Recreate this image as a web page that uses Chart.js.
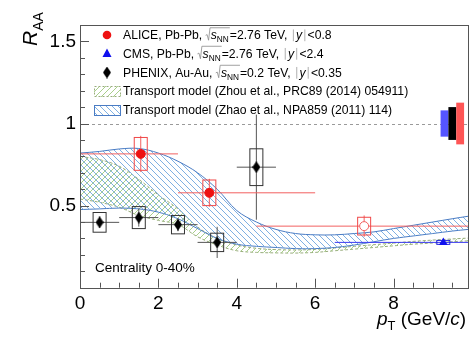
<!DOCTYPE html>
<html>
<head>
<meta charset="utf-8">
<script src="https://cdn.jsdelivr.net/npm/chart.js@4.4.0/dist/chart.umd.min.js"></script>
<style>
  html, body { margin: 0; padding: 0; background: #fff; }
  canvas { display: block; }
</style>
</head>
<body>
<canvas id="raa" width="474" height="344"></canvas>
<script>
// datos
const aliceX = [1.55, 3.3, 7.25];
const aliceY = [0.815, 0.578, 0.375];
const aliceXlo = [0, 2.5, 4.5];
const aliceXhi = [2.5, 6, 10];
const aliceStat = [0.11, 0.085, 0.065];
const aliceSys = [0.10, 0.078, 0.054];

const cmsX = [9.27];
const cmsY = [0.276];
const cmsXlo = [6.5];
const cmsXhi = [30];
const cmsStat = [0.01];
const cmsSys = [0.012];

const phenixX = [0.5, 1.5, 2.5, 3.5, 4.5];
const phenixY = [0.398, 0.427, 0.384, 0.276, 0.734];
const phenixXlo = [0, 1, 2, 3, 4];
const phenixXhi = [1, 2, 3, 4, 5];
const phenixStat = [0.035, 0.055, 0.04, 0.095, 0.32];
const phenixSys = [0.06, 0.067, 0.056, 0.056, 0.112];

// incertidumbres globales (CMS, PHENIX, ALICE)
const globalUnc = [0.08, 0.10, 0.127];

const bandX = [0, 0.5, 1, 1.5, 2, 2.5, 3, 3.5, 4, 4.5, 5, 5.5, 6, 6.5, 7, 7.5, 8, 8.5, 9, 9.5, 9.9];
const zhaoUpper = [0.82, 0.83, 0.845, 0.848, 0.82, 0.77, 0.70, 0.60, 0.47, 0.40, 0.355, 0.33, 0.322, 0.322, 0.33, 0.34, 0.36, 0.38, 0.40, 0.42, 0.435];
const zhaoLower = [0.476, 0.48, 0.485, 0.48, 0.46, 0.42, 0.36, 0.30, 0.265, 0.252, 0.245, 0.238, 0.238, 0.245, 0.26, 0.28, 0.30, 0.315, 0.33, 0.345, 0.355];
const zhouUpper = [0.80, 0.78, 0.74, 0.66, 0.565, 0.48, 0.37, 0.30, 0.26, 0.24, 0.232, 0.23, 0.233, 0.242, 0.252, 0.262, 0.272, 0.282, 0.29, 0.297, 0.302];
const zhouLower = [0.54, 0.52, 0.49, 0.44, 0.41, 0.385, 0.31, 0.26, 0.225, 0.215, 0.212, 0.211, 0.215, 0.225, 0.235, 0.245, 0.255, 0.265, 0.272, 0.28, 0.285];

const xTickLabels = [0, 2, 4, 6, 8];
const yTickLabels = [0.5, 1, 1.5];

const FONT = "'Liberation Sans', Arial, sans-serif";
const RED = '#ee1111', RED_L = '#f26060', BLUE = '#1010ee', BLUE_B = '#4a7cc4', GREEN_B = '#98ac7c';

function pts(xs, ys) { return xs.map((x, i) => ({ x, y: ys[i] })); }

function hatch(color, dir) {
  const s = 6;
  const c = document.createElement('canvas');
  c.width = s; c.height = s;
  const g = c.getContext('2d');
  g.strokeStyle = color; g.lineWidth = 1;
  g.beginPath();
  if (dir > 0) {
    g.moveTo(0, s); g.lineTo(s, 0);
    g.moveTo(-1, 1); g.lineTo(1, -1);
    g.moveTo(s - 1, s + 1); g.lineTo(s + 1, s - 1);
  } else {
    g.moveTo(0, 0); g.lineTo(s, s);
    g.moveTo(-1, s - 1); g.lineTo(1, s + 1);
    g.moveTo(s - 1, -1); g.lineTo(s + 1, 1);
  }
  g.stroke();
  return g.createPattern(c, 'repeat');
}
const blueHatch = hatch('#7fb0e2', -1);
const greenHatch = hatch('#a8cf8a', 1);

// rombo alargado para PHENIX
const diamond = (() => {
  const c = document.createElement('canvas');
  c.width = 8; c.height = 12;
  const g = c.getContext('2d');
  g.fillStyle = '#000';
  g.beginPath();
  g.moveTo(4, 0); g.lineTo(8, 6); g.lineTo(4, 12); g.lineTo(0, 6); g.closePath();
  g.fill();
  return c;
})();

// texto con raiz, subindices, cursiva
function drawParts(ctx, x, y, parts, size) {
  for (const p of parts) {
    if (typeof p === 'string') {
      ctx.font = `${size}px ${FONT}`;
      ctx.fillText(p, x, y);
      x += ctx.measureText(p).width;
    } else if (p.it) {
      ctx.font = `italic ${size}px ${FONT}`;
      ctx.fillText(p.it, x, y);
      x += ctx.measureText(p.it).width;
    } else if (p.sub) {
      ctx.font = `${size * 0.68}px ${FONT}`;
      ctx.fillText(p.sub, x, y + size * 0.28);
      x += ctx.measureText(p.sub).width;
    } else if (p.root) {
      const x0 = x;
      x += size * 0.42;
      const xe = drawParts(ctx, x, y, p.root, size);
      ctx.save();
      ctx.strokeStyle = '#8a8a8a'; ctx.lineWidth = 0.8;
      ctx.beginPath();
      ctx.moveTo(x0, y - size * 0.3);
      ctx.lineTo(x0 + size * 0.12, y - size * 0.36);
      ctx.lineTo(x0 + size * 0.24, y + size * 0.1);
      ctx.lineTo(x0 + size * 0.36, y - size * 0.92);
      ctx.lineTo(xe + 1, y - size * 0.92);
      ctx.stroke();
      ctx.restore();
      x = xe + 1;
    } else if (p.bar) {
      ctx.save();
      ctx.strokeStyle = '#9a9a9a'; ctx.lineWidth = 0.8;
      ctx.beginPath();
      ctx.moveTo(x + size * 0.22, y - size * 0.78);
      ctx.lineTo(x + size * 0.22, y + size * 0.18);
      ctx.stroke();
      ctx.restore();
      x += size * 0.44;
    }
  }
  return x;
}

function drawErrors(chart) {
  const { ctx, chartArea: a, scales: { x: sx, y: sy } } = chart;
  ctx.save();
  ctx.beginPath();
  ctx.rect(a.left, a.top, a.right - a.left, a.bottom - a.top);
  ctx.clip();
  const hw = 6.5;
  function series(xs, ys, lo, hi, stat, sys, lineCol, boxCol) {
    xs.forEach((xv, i) => {
      const px = sx.getPixelForValue(xv), py = sy.getPixelForValue(ys[i]);
      ctx.strokeStyle = lineCol; ctx.lineWidth = 1;
      ctx.beginPath();
      ctx.moveTo(sx.getPixelForValue(lo[i]), py);
      ctx.lineTo(sx.getPixelForValue(hi[i]), py);
      ctx.moveTo(px, sy.getPixelForValue(ys[i] + stat[i]));
      ctx.lineTo(px, sy.getPixelForValue(ys[i] - stat[i]));
      ctx.stroke();
      const t = sy.getPixelForValue(ys[i] + sys[i]), b = sy.getPixelForValue(ys[i] - sys[i]);
      ctx.strokeStyle = boxCol;
      ctx.strokeRect(px - hw, t, 2 * hw, b - t);
    });
  }
  series(phenixX, phenixY, phenixXlo, phenixXhi, phenixStat, phenixSys, '#555', '#333');
  series(aliceX, aliceY, aliceXlo, aliceXhi, aliceStat, aliceSys, RED_L, '#f04848');
  series(cmsX, cmsY, cmsXlo, cmsXhi, cmsStat, cmsSys, '#3a3af0', '#2020e0');
  ctx.restore();
}

const overlay = {
  id: 'overlay',
  beforeDatasetsDraw(chart) {
    const { ctx, chartArea: a, scales: { y: sy } } = chart;
    const py = Math.round(sy.getPixelForValue(1)) + 0.5;
    ctx.save();
    ctx.strokeStyle = '#9a9a9a'; ctx.lineWidth = 1;
    ctx.setLineDash([3, 3]);
    ctx.beginPath(); ctx.moveTo(a.left, py); ctx.lineTo(a.right, py); ctx.stroke();
    ctx.restore();
  },
  afterDatasetDraw(chart, args) {
    if (args.index === 3) drawErrors(chart);
  },
  afterDraw(chart) {
    const { ctx, chartArea: a, scales: { x: sx, y: sy } } = chart;
    ctx.save();
    // incertidumbres globales
    const gcol = ['#5555ff', '#000000', '#ff5555'];
    globalUnc.forEach((u, i) => {
      const x0 = sx.getPixelForValue(9.2 + 0.2 * i), x1 = sx.getPixelForValue(9.4 + 0.2 * i);
      const t = sy.getPixelForValue(1 + u), b = sy.getPixelForValue(1 - u);
      ctx.fillStyle = gcol[i];
      ctx.fillRect(x0, t, x1 - x0, b - t);
    });
    // marco y ticks
    ctx.strokeStyle = '#555'; ctx.lineWidth = 1;
    ctx.strokeRect(Math.round(a.left) + 0.5, Math.round(a.top) + 0.5, Math.round(a.right - a.left), Math.round(a.bottom - a.top));
    ctx.beginPath();
    for (let k = 1; k <= 16; k++) {
      const py = Math.round(sy.getPixelForValue(k / 10)) + 0.5;
      const len = k % 5 === 0 ? 9 : 5;
      ctx.moveTo(a.left, py); ctx.lineTo(a.left + len, py);
    }
    for (let k = 1; k <= 19; k++) {
      const px = Math.round(sx.getPixelForValue(k / 2)) + 0.5;
      const len = k % 4 === 0 ? 9 : 5;
      ctx.moveTo(px, a.bottom); ctx.lineTo(px, a.bottom - len);
    }
    ctx.stroke();

    // titulos de ejes
    ctx.fillStyle = '#000';
    ctx.textBaseline = 'alphabetic';
    ctx.save();
    ctx.translate(37, 46);
    ctx.rotate(-Math.PI / 2);
    ctx.font = `italic 21px ${FONT}`;
    ctx.fillText('R', 0, 0);
    const rw = ctx.measureText('R').width;
    ctx.font = `14px ${FONT}`;
    ctx.fillText('AA', rw, 6);
    ctx.restore();
    drawParts(ctx, 377, 325, [{ it: 'p' }, { sub: 'T' }, ' (GeV/', { it: 'c' }, ')'], 19);

    // leyenda
    const lx = 123, ls = 12.2;
    const rows = [39, 57.5, 76.5, 95, 113.5];
    ctx.fillStyle = RED;
    ctx.beginPath(); ctx.arc(107, rows[0] - 4, 4.3, 0, Math.PI * 2); ctx.fill();
    ctx.fillStyle = BLUE;
    ctx.beginPath();
    ctx.moveTo(107, rows[1] - 9); ctx.lineTo(111.5, rows[1] - 0.5); ctx.lineTo(102.5, rows[1] - 0.5); ctx.closePath(); ctx.fill();
    ctx.drawImage(diamond, 103, rows[2] - 10);
    ctx.fillStyle = '#000';
    const sNN = { root: [{ it: 's' }, { sub: 'NN' }] };
    drawParts(ctx, lx, rows[0], ['ALICE, Pb-Pb, ', sNN, '=2.76 TeV, ', { bar: 1 }, { it: 'y' }, { bar: 1 }, '<0.8'], ls);
    drawParts(ctx, lx, rows[1], ['CMS, Pb-Pb, ', sNN, '=2.76 TeV, ', { bar: 1 }, { it: 'y' }, { bar: 1 }, '<2.4'], ls);
    drawParts(ctx, lx, rows[2], ['PHENIX, Au-Au, ', sNN, '=0.2 TeV, ', { bar: 1 }, { it: 'y' }, { bar: 1 }, '<0.35'], ls);
    // cajas de modelos
    ctx.fillStyle = greenHatch;
    ctx.fillRect(94, 86, 27, 11);
    ctx.strokeStyle = GREEN_B; ctx.setLineDash([2, 2]);
    ctx.strokeRect(94.5, 86.5, 26, 10);
    ctx.setLineDash([]);
    ctx.fillStyle = blueHatch;
    ctx.fillRect(94, 105, 27, 11);
    ctx.strokeStyle = BLUE_B;
    ctx.strokeRect(94.5, 105.5, 26, 10);
    ctx.fillStyle = '#000';
    drawParts(ctx, lx, rows[3], ['Transport model (Zhou et al., PRC89 (2014) 054911)'], ls);
    drawParts(ctx, lx, rows[4], ['Transport model (Zhao et al., NPA859 (2011) 114)'], ls);

    ctx.font = `13.5px ${FONT}`;
    ctx.fillText('Centrality 0-40%', 95, 272);
    ctx.restore();
  }
};

new Chart(document.getElementById('raa'), {
  type: 'line',
  data: {
    datasets: [
      { data: pts(aliceX, aliceY), showLine: false, pointStyle: 'circle', pointRadius: 4.5,
        pointBackgroundColor: [RED, RED, '#fff'], pointBorderColor: [RED, RED, RED_L], pointBorderWidth: 1 },
      { data: pts(cmsX, cmsY), showLine: false, pointStyle: 'triangle', pointRadius: 5,
        pointBackgroundColor: BLUE, pointBorderColor: BLUE, pointBorderWidth: 0 },
      { data: pts(phenixX, phenixY), showLine: false, pointStyle: diamond, pointRadius: 5 },
      { data: pts(bandX, zhaoUpper), fill: '+1', backgroundColor: blueHatch, borderColor: BLUE_B,
        borderWidth: 1, pointRadius: 0, tension: 0.35 },
      { data: pts(bandX, zhaoLower), fill: false, borderColor: BLUE_B, borderWidth: 1, pointRadius: 0, tension: 0.35 },
      { data: pts(bandX, zhouUpper), fill: '+1', backgroundColor: greenHatch, borderColor: GREEN_B,
        borderDash: [3, 2], borderWidth: 1, pointRadius: 0, tension: 0.35 },
      { data: pts(bandX, zhouLower), fill: false, borderColor: GREEN_B, borderDash: [3, 2],
        borderWidth: 1, pointRadius: 0, tension: 0.35 }
    ]
  },
  options: {
    responsive: false,
    animation: false,
    layout: { padding: { top: 25, right: 5.4, left: 0, bottom: 0 } },
    plugins: { legend: { display: false }, tooltip: { enabled: false } },
    scales: {
      x: {
        type: 'linear', min: 0, max: 9.9,
        afterFit(s) { s.height = 56.3; },
        grid: { display: false, drawTicks: false }, border: { display: false },
        ticks: { stepSize: 2, padding: 5, color: '#000', maxRotation: 0, autoSkip: false,
          font: { size: 19, family: FONT },
          callback: v => xTickLabels.includes(v) ? String(v) : '' }
      },
      y: {
        min: 0, max: 1.6,
        afterFit(s) { s.width = 80; },
        grid: { display: false, drawTicks: false }, border: { display: false },
        ticks: { stepSize: 0.1, padding: 4, color: '#000', autoSkip: false,
          font: { size: 19, family: FONT },
          callback: v => {
            const r = Math.round(v * 10) / 10;
            return yTickLabels.includes(r) ? String(r) : '';
          } }
      }
    }
  },
  plugins: [overlay]
});
</script>
</body>
</html>
